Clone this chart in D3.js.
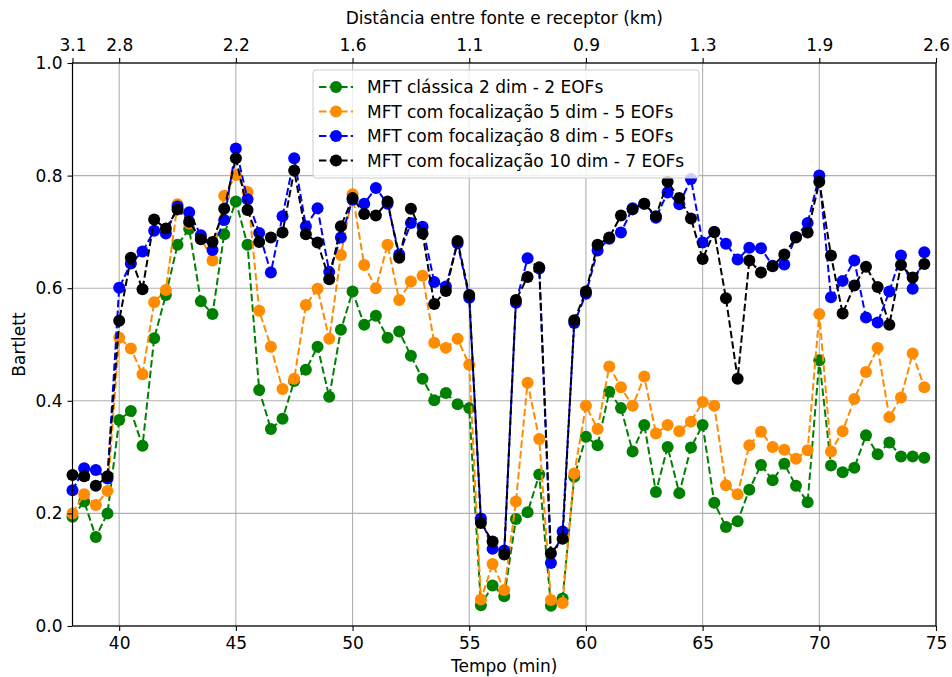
<!DOCTYPE html>
<html><head><meta charset="utf-8">
<script src="https://cdn.jsdelivr.net/npm/d3@7"></script>
<style>body{margin:0;background:#fff}svg{display:block}text{font-family:"DejaVu Sans",sans-serif}</style>
</head><body><svg id="c" width="952" height="677"></svg>
<script>
const times = d3.range(74).map(i => 38 + i * 0.5);
const seriesNames = ["MFT clássica 2 dim - 2 EOFs","MFT com focalização 5 dim - 5 EOFs","MFT com focalização 8 dim - 5 EOFs","MFT com focalização 10 dim - 7 EOFs"];
const seriesColors = ["#008000","#ff8c00","#0000ff","#000000"];
const green = [0.194,0.221,0.158,0.200,0.366,0.382,0.320,0.511,0.588,0.677,0.705,0.577,0.554,0.696,0.754,0.677,0.419,0.350,0.368,0.435,0.455,0.496,0.407,0.526,0.594,0.535,0.551,0.512,0.523,0.480,0.439,0.401,0.414,0.394,0.387,0.037,0.072,0.053,0.190,0.202,0.269,0.036,0.049,0.265,0.336,0.321,0.416,0.387,0.310,0.357,0.238,0.318,0.236,0.317,0.357,0.219,0.176,0.186,0.242,0.286,0.259,0.288,0.249,0.220,0.472,0.285,0.273,0.281,0.339,0.305,0.326,0.301,0.301,0.299];
const orange = [0.200,0.234,0.215,0.240,0.512,0.493,0.447,0.575,0.597,0.749,0.715,0.690,0.649,0.764,0.801,0.771,0.560,0.496,0.421,0.439,0.570,0.599,0.510,0.659,0.767,0.641,0.600,0.677,0.579,0.612,0.622,0.503,0.494,0.510,0.464,0.047,0.110,0.064,0.221,0.432,0.332,0.046,0.041,0.271,0.391,0.350,0.461,0.424,0.391,0.443,0.342,0.357,0.346,0.363,0.398,0.391,0.250,0.234,0.321,0.345,0.318,0.313,0.297,0.312,0.554,0.310,0.346,0.403,0.451,0.494,0.371,0.406,0.484,0.424];
const blue = [0.241,0.280,0.277,0.262,0.601,0.644,0.665,0.702,0.697,0.745,0.735,0.694,0.668,0.721,0.848,0.758,0.698,0.628,0.728,0.831,0.710,0.742,0.629,0.690,0.757,0.750,0.778,0.750,0.660,0.716,0.709,0.611,0.603,0.680,0.583,0.191,0.137,0.134,0.574,0.653,0.635,0.112,0.168,0.538,0.590,0.667,0.688,0.699,0.742,0.750,0.725,0.770,0.749,0.794,0.681,0.700,0.679,0.651,0.672,0.671,0.640,0.642,0.691,0.716,0.800,0.584,0.613,0.649,0.548,0.539,0.594,0.658,0.599,0.664];
const black = [0.268,0.266,0.249,0.266,0.542,0.654,0.598,0.722,0.706,0.740,0.718,0.687,0.682,0.741,0.831,0.739,0.682,0.690,0.699,0.809,0.696,0.681,0.616,0.710,0.760,0.732,0.729,0.754,0.654,0.741,0.697,0.572,0.595,0.684,0.588,0.183,0.150,0.127,0.579,0.620,0.637,0.129,0.155,0.543,0.594,0.677,0.690,0.729,0.740,0.750,0.728,0.789,0.760,0.724,0.652,0.700,0.582,0.439,0.649,0.628,0.639,0.660,0.690,0.699,0.789,0.658,0.555,0.605,0.638,0.602,0.535,0.641,0.619,0.643];
const xTicks = [40,45,50,55,60,65,70,75];
const yTicks = [0,0.2,0.4,0.6,0.8,1.0];
const topTicks = [38,40,45,50,55,60,65,70,75];
const topLabels = ["3.1","2.8","2.2","1.6","1.1","0.9","1.3","1.9","2.6"];

const FS = 17;
const allSeries = [green, orange, blue, black];
const svg = d3.select("#c");
const L = 72.5, R = 936, T = 63, B = 626;
const x = d3.scaleLinear().domain([38,75]).range([L,R]);
const y = d3.scaleLinear().domain([0,1]).range([B,T]);

// grid
const g = svg.append("g");
g.selectAll(".gx").data(xTicks).join("line").attr("x1",d=>x(d)).attr("x2",d=>x(d)).attr("y1",T).attr("y2",B).attr("stroke","#b0b0b0").attr("stroke-width",1.1);
g.selectAll(".gy").data(yTicks).join("line").attr("y1",d=>y(d)).attr("y2",d=>y(d)).attr("x1",L).attr("x2",R).attr("stroke","#b0b0b0").attr("stroke-width",1.1);

// series
const line = d3.line().x((d,i)=>x(times[i])).y(d=>y(d));
allSeries.forEach((s,k)=>{
  const sg = svg.append("g");
  sg.append("path").datum(s).attr("d",line).attr("fill","none").attr("stroke",seriesColors[k]).attr("stroke-width",2).attr("stroke-dasharray","7.4,3.2");
  sg.selectAll("circle").data(s).join("circle").attr("cx",(d,i)=>x(times[i])).attr("cy",d=>y(d)).attr("r",6).attr("fill",seriesColors[k]);
});

// frame
svg.append("rect").attr("x",L).attr("y",T).attr("width",R-L).attr("height",B-T).attr("fill","none").attr("stroke","#000").attr("stroke-width",1.2);

// axes
const fmtY = d3.format(".1f");
const bx = svg.append("g").attr("transform",`translate(0,${B})`).call(d3.axisBottom(x).tickValues(xTicks).tickSize(5).tickPadding(6).tickFormat(d3.format("d")));
const ly = svg.append("g").attr("transform",`translate(${L},0)`).call(d3.axisLeft(y).tickValues(yTicks).tickSize(5).tickPadding(5).tickFormat(fmtY));
const tx = svg.append("g").attr("transform",`translate(0,${T})`).call(d3.axisTop(x).tickValues(topTicks).tickSize(5).tickPadding(7).tickFormat((d,i)=>topLabels[i]));
[bx,ly,tx].forEach(a=>{a.select(".domain").remove();a.selectAll("text").attr("font-size",FS).attr("fill","#000").style("font-family","DejaVu Sans");a.selectAll("line").attr("stroke","#000").attr("stroke-width",1.1);});

svg.append("text").attr("x",(L+R)/2).attr("y",672).attr("text-anchor","middle").attr("font-size",FS).text("Tempo (min)");
svg.append("text").attr("x",(L+R)/2).attr("y",24).attr("text-anchor","middle").attr("font-size",FS).text("Distância entre fonte e receptor (km)");
svg.append("text").attr("transform",`translate(25,${(T+B)/2}) rotate(-90)`).attr("text-anchor","middle").attr("font-size",FS).text("Bartlett");

// legend
const lg = svg.append("g").attr("transform","translate(313,70)");
lg.append("rect").attr("width",386).attr("height",108).attr("rx",3).attr("fill","#fff").attr("fill-opacity",0.8).attr("stroke","#cccccc");
seriesNames.forEach((n,k)=>{
  const yy = 17 + k*24.5;
  lg.append("line").attr("x1",6).attr("x2",40).attr("y1",yy).attr("y2",yy).attr("stroke",seriesColors[k]).attr("stroke-width",2).attr("stroke-dasharray","7.4,3.2");
  lg.append("circle").attr("cx",23).attr("cy",yy).attr("r",6).attr("fill",seriesColors[k]);
  lg.append("text").attr("x",54).attr("y",yy+6).attr("font-size",FS).text(n);
});
</script></body></html>
